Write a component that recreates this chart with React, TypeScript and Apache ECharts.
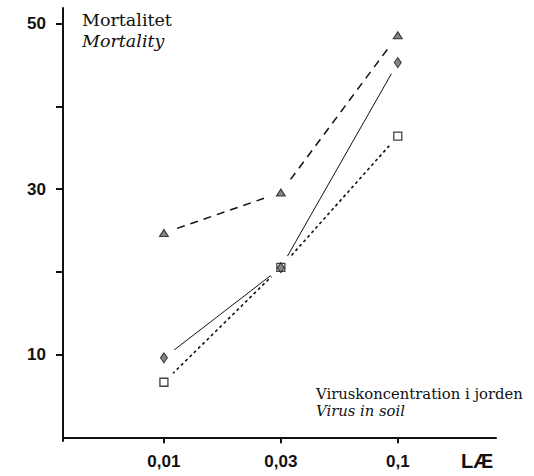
import React, { useEffect, useRef } from "react";
import * as echarts from "echarts";

const xCategories = ["0,01", "0,03", "0,1"];
const xPositions = [1, 2, 3];
const yTickValues = [10, 20, 30, 40, 50];
const yLabelValues = [10, 30, 50];
const triangleSeries = [24.7, 29.6, 48.6];
const diamondSeries = [9.6, 20.5, 45.3];
const squareSeries = [6.65, 20.55, 36.4];

const serif = "'DejaVu Serif', 'Liberation Serif', serif";
const sans = "'Liberation Sans', Arial, sans-serif";

export default function App() {
  const ref = useRef<HTMLDivElement>(null);
  useEffect(() => {
    if (!ref.current) return;
    const chart = echarts.init(ref.current, null, { renderer: "svg" });
    const pts = (vals: number[]) => vals.map((v, i) => [xPositions[i], v]);
    const lineSeries = (vals: number[], width: number, dash: any) => ({
      type: "line",
      data: pts(vals),
      showSymbol: false,
      symbol: "none",
      z: 2,
      silent: true,
      lineStyle: { color: "#111", width, type: dash },
    });
    const mask = (vals: number[]) => ({
      type: "scatter",
      data: pts(vals),
      symbol: "circle",
      symbolSize: 26,
      z: 3,
      silent: true,
      itemStyle: { color: "#fff", opacity: 1 },
    });
    chart.setOption({
      animation: false,
      backgroundColor: "#fff",
      grid: { left: 63, right: 38, top: 8, bottom: 35, containLabel: false },
      xAxis: {
        type: "value",
        min: 0.137,
        max: 3.84,
        axisLine: { show: true, lineStyle: { color: "#111", width: 2 } },
        axisTick: { show: true, customValues: xPositions, length: 6, lineStyle: { color: "#111", width: 2 } },
        axisLabel: {
          customValues: xPositions,
          formatter: (v: number) => xCategories[Math.round(v) - 1] ?? "",
          fontFamily: sans,
          fontWeight: "bold",
          fontSize: 17,
          color: "#111",
          margin: 12,
        },
        splitLine: { show: false },
      },
      yAxis: {
        type: "value",
        min: -0.45,
        max: 51.9,
        axisLine: { show: true, lineStyle: { color: "#111", width: 2 } },
        axisTick: { show: true, customValues: yTickValues, length: 7, lineStyle: { color: "#111", width: 2 } },
        axisLabel: {
          customValues: yLabelValues,
          fontFamily: sans,
          fontWeight: "bold",
          fontSize: 17,
          color: "#111",
          margin: 17,
        },
        splitLine: { show: false },
      },
      graphic: [
        { type: "text", left: 82, top: 11, style: { text: "Mortalitet", font: `17.5px ${serif}`, fill: "#111" } },
        { type: "text", left: 82, top: 32, style: { text: "Mortality", font: `italic 17.5px ${serif}`, fill: "#111" } },
        { type: "text", left: 316, top: 386, style: { text: "Viruskoncentration i jorden", font: `14.8px ${serif}`, fill: "#111" } },
        { type: "text", left: 316, top: 403, style: { text: "Virus in soil", font: `italic 14.8px ${serif}`, fill: "#111" } },
        { type: "text", left: 461, top: 451, style: { text: "LÆ", font: `bold 20px ${sans}`, fill: "#111" } },
      ],
      series: [
        lineSeries(triangleSeries, 1.5, [8, 6]),
        lineSeries(diamondSeries, 1, "solid"),
        lineSeries(squareSeries, 1.6, [3, 3]),
        mask(triangleSeries),
        mask(diamondSeries),
        mask(squareSeries),
        {
          type: "scatter",
          data: pts(squareSeries),
          symbol: "rect",
          symbolSize: 8,
          z: 4,
          itemStyle: { color: "#fff", borderColor: "#111", borderWidth: 1.3 },
        },
        {
          type: "scatter",
          data: pts(diamondSeries),
          symbol: "diamond",
          symbolSize: [7, 10],
          z: 5,
          itemStyle: { color: "#666", borderColor: "#111", borderWidth: 1 },
        },
        {
          type: "scatter",
          data: pts(triangleSeries),
          symbol: "triangle",
          symbolSize: [9, 7],
          z: 5,
          itemStyle: { color: "#666", borderColor: "#111", borderWidth: 1 },
        },
      ],
    });
    return () => chart.dispose();
  }, []);
  return <div ref={ref} style={{ width: 534, height: 476, position: "absolute", left: 0, top: 0 }} />;
}
